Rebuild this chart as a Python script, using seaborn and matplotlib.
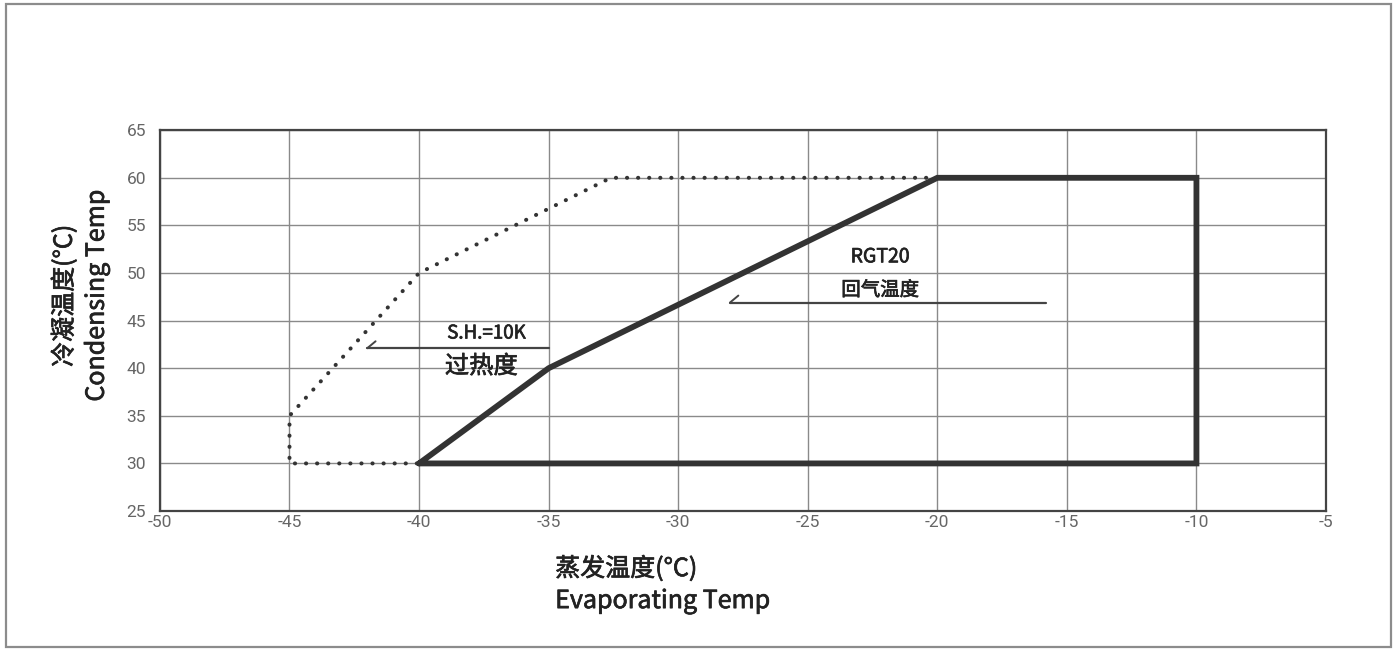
import matplotlib.pyplot as plt
import matplotlib.patches as mpatches
import matplotlib.patheffects as pe
import seaborn as sns
import pandas as pd

# operating envelope, RGT20 return gas temp (solid)
rgt_evap = [-40, -35, -20, -10, -10, -40]
rgt_cond = [30, 40, 60, 60, 30, 30]
# superheat 10K envelope (dotted)
sh_evap = [-20, -32.6, -40, -45, -45, -40]
sh_cond = [60, 60, 50, 35, 30, 30]

xticks = [-50, -45, -40, -35, -30, -25, -20, -15, -10, -5]
yticks = [25, 30, 35, 40, 45, 50, 55, 60, 65]

sns.set_style('white')
plt.rcParams['font.family'] = ['Noto Sans CJK SC', 'DejaVu Sans']
plt.rcParams['axes.unicode_minus'] = False

# regular weight thickened a little, to get a "medium" look
medium = [pe.withStroke(linewidth=0.5, foreground='#222222')]

fig = plt.figure(figsize=(13.98, 6.51), dpi=100)
ax = fig.add_axes([0.1144, 0.215, 0.8341, 0.585])

rgt = pd.DataFrame({'evap': rgt_evap, 'cond': rgt_cond})
sh = pd.DataFrame({'evap': sh_evap, 'cond': sh_cond})

sns.lineplot(data=sh, x='evap', y='cond', sort=False, estimator=None, ax=ax,
             color='#333333', lw=2.9, linestyle=(0, (0.05, 2.7)),
             dash_capstyle='round', zorder=3)
sns.lineplot(data=rgt, x='evap', y='cond', sort=False, estimator=None, ax=ax,
             color='#333333', lw=4.2, solid_joinstyle='miter', zorder=4)

ax.set_xlim(-50, -5)
ax.set_ylim(25, 65)
ax.set_xticks(xticks)
ax.set_yticks(yticks)
ax.grid(True, color='#8a8a8a', lw=1.0)
ax.set_axisbelow(True)
for s in ax.spines.values():
    s.set_color('#444444')
    s.set_linewidth(1.6)
ax.tick_params(axis='both', length=0, labelsize=12.5, labelcolor='#666666')
ax.tick_params(axis='x', pad=3)
ax.tick_params(axis='y', pad=10)
for lab in ax.get_xticklabels() + ax.get_yticklabels():
    lab.set_fontfamily(['Roboto', 'DejaVu Sans'])

ax.set_xlabel('蒸发温度(°C)\nEvaporating Temp', fontsize=18, color='#222222',
              linespacing=1.3, multialignment='left', va='center', path_effects=medium)
ax.xaxis.set_label_coords(0.431, -0.194)
ax.set_ylabel('冷凝温度(°C)\nCondensing Temp', fontsize=18, color='#222222',
              linespacing=1.3, va='center', path_effects=medium)
ax.yaxis.set_label_coords(-0.068, 0.565)

# annotation arrows
ax.plot([-42.0, -35.0], [42.1, 42.1], color='#444444', lw=1.6)
ax.annotate('', xy=(-42.0, 42.1), xytext=(6, 5), textcoords='offset points',
            arrowprops=dict(arrowstyle='-', color='#444444', lw=1.4, shrinkA=0, shrinkB=0))
ax.text(-37.4, 43.7, 'S.H.=10K', ha='center', va='center', fontsize=13.5,
        color='#222222', path_effects=medium)
ax.text(-37.6, 40.2, '过热度', ha='center', va='center', fontsize=17.5,
        color='#222222', path_effects=medium)

ax.plot([-28.0, -15.8], [46.9, 46.9], color='#444444', lw=1.6)
ax.annotate('', xy=(-28.0, 46.9), xytext=(6, 5), textcoords='offset points',
            arrowprops=dict(arrowstyle='-', color='#444444', lw=1.4, shrinkA=0, shrinkB=0))
ax.text(-22.2, 51.7, 'RGT20', ha='center', va='center', fontsize=14,
        color='#222222', path_effects=medium)
ax.text(-22.2, 48.2, '回气温度', ha='center', va='center', fontsize=14,
        color='#222222', path_effects=medium)

# figure frame
fig.patches.append(mpatches.Rectangle((0.004, 0.006), 0.991, 0.988, transform=fig.transFigure,
                                      fill=False, edgecolor='#8c8c8c', lw=1.6))

fig.savefig('out.png', dpi=100)
